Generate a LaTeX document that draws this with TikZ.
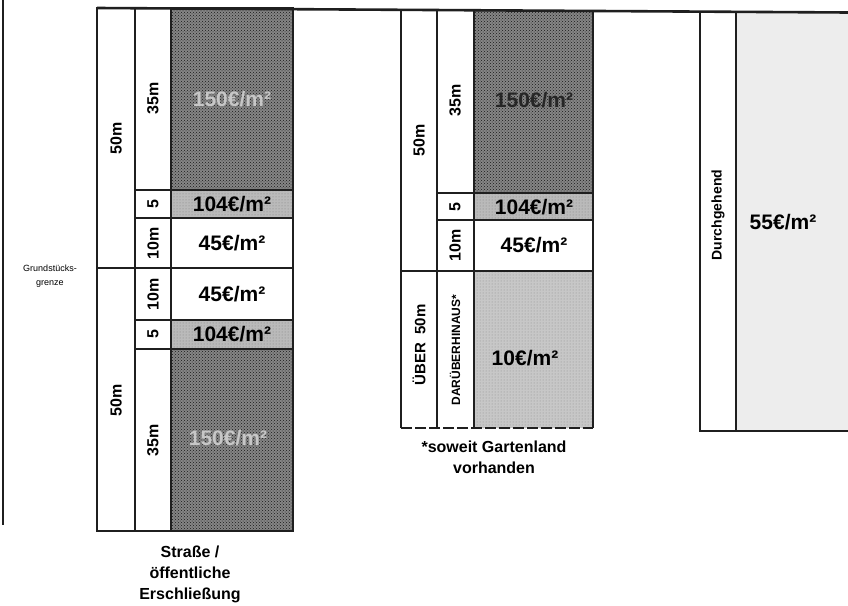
\documentclass[tikz,border=0pt]{standalone}
\usepackage{fontspec}
\setmainfont{Liberation Sans}
\usetikzlibrary{patterns}

\begin{document}
\begin{tikzpicture}[x=1pt, y=-1pt, line join=miter,
  frame/.style={draw=black!88, line width=2.6pt},
  rule/.style={draw=black!88, line width=1.4pt},
  dense/.style={fill=black!48, postaction={pattern=crosshatch dots, pattern color=black!90}},
  band/.style={fill=black!27, postaction={pattern=dots, pattern color=black!50}},
  garden/.style={fill=black!22, postaction={pattern=dots, pattern color=black!45}},
  pale/.style={fill=black!7},
  price/.style={font=\fontsize{21}{24}\selectfont\bfseries},
  dim/.style={font=\fontsize{16}{18}\selectfont\bfseries, rotate=90},
  note/.style={font=\fontsize{16}{21}\selectfont\bfseries, align=center}]
\clip (0,0) rectangle (848,605);
\fill[white] (0,0) rectangle (848,605);
% left: lot with street on both ends
\path[dense] (171,8) rectangle (293,190);
\path[band] (171,190) rectangle (293,218);
\path[band] (171,320) rectangle (293,349);
\path[dense] (171,349) rectangle (293,531);
% middle: lot with garden land behind
\path[dense] (474,10) rectangle (593,193);
\path[band] (474,193) rectangle (593,220);
\path[garden] (474,271) rectangle (593,428);
% right: flat rate
\path[pale] (736,12) rectangle (860,431);

\draw[frame] (3,0) -- (3,525);
\draw[frame] (97,8) -- (848,12.5);

\draw[frame] (97,8) rectangle (293,531);
\draw[rule] (135,8) -- (135,531);
\draw[frame] (171,8) -- (171,531);
\draw[frame] (97,268) -- (293,268);
\foreach \y in {190,218,320,349} {
  \draw[rule] (135,\y) -- (171,\y);
  \draw[frame] (171,\y) -- (293,\y);
}

\draw[frame] (401,10) -- (401,428);
\draw[rule] (437,10) -- (437,428);
\draw[frame] (474,10) -- (474,428);
\draw[frame] (593,10) -- (593,428);
\draw[frame] (401,271) -- (593,271);
\foreach \y in {193,220} {
  \draw[rule] (437,\y) -- (474,\y);
  \draw[frame] (474,\y) -- (593,\y);
}
\draw[frame, dash pattern=on 11pt off 3pt] (401,428) -- (593,428);

\draw[frame] (700,12) -- (700,431) -- (860,431);
\draw[frame] (736,12) -- (736,431);

% labels, left
\node[dim] (lhalfa) at (116,138) {50m};
\node[dim] (lhalfb) at (116,400) {50m};
\node[dim] (ldeepa) at (153,98) {35m};
\node[dim] (lfivea) at (153,204) {5};
\node[dim] (ltena) at (153,243) {10m};
\node[dim] (ltenb) at (153,294) {10m};
\node[dim] (lfiveb) at (153,334) {5};
\node[dim] (ldeepb) at (153,440) {35m};
\node[price, text=black!22] (lpricea) at (232,99) {150€/m²};
\node[price] (lpriceb) at (232,204) {104€/m²};
\node[price] (lpricec) at (232,243) {45€/m²};
\node[price] (lpriced) at (232,294) {45€/m²};
\node[price] (lpricee) at (232,334) {104€/m²};
\node[price, text=black!22] (lpricef) at (228,438) {150€/m²};
\node[font=\fontsize{9}{14}\selectfont, align=center] (border) at (50,276) {Grundstücks-\\grenze};
\node[note] (street) at (190,574) {Straße /\\öffentliche\\Erschließung};

% labels, middle
\node[dim] (mhalf) at (419,140) {50m};
\node[dim] (mdeep) at (455,100) {35m};
\node[dim] (mfive) at (455,207) {5};
\node[dim] (mten) at (455,245) {10m};
\node[price, text=black!85] (mpricea) at (534,100) {150€/m²};
\node[price] (mpriceb) at (534,207) {104€/m²};
\node[price] (mpricec) at (534,245) {45€/m²};
\node[dim, font=\fontsize{15}{18}\selectfont\bfseries] (mover) at (419,345) {ÜBER\ \ 50m};
\node[dim, font=\fontsize{12}{14}\selectfont\bfseries] (mbeyond) at (455,350) {DARÜBERHINAUS*};
\node[price] (mpriced) at (525,358) {10€/m²};
\node[note] (garden) at (494,457) {*soweit Gartenland\\vorhanden};

% labels, right
\node[dim, font=\fontsize{14}{18}\selectfont\bfseries] (through) at (718,215) {Durchgehend};
\node[price] (rprice) at (783,222) {55€/m²};
\end{tikzpicture}
\end{document}
